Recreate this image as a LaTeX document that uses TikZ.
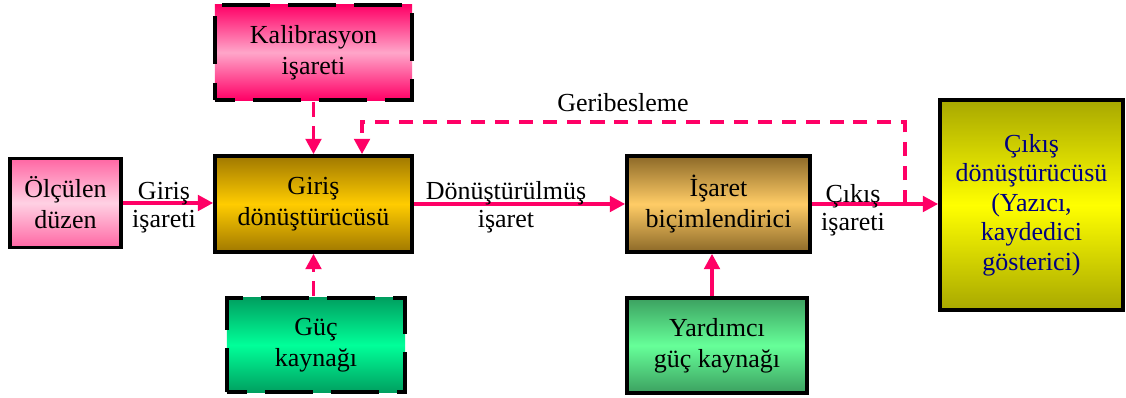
\documentclass[tikz,border=0pt]{standalone}
\usepackage{fontspec}
\setmainfont{Liberation Serif}
\usetikzlibrary{arrows.meta,positioning,calc}
\definecolor{pnk}{RGB}{255,0,102}
\definecolor{navy}{RGB}{0,0,128}
\tikzset{bx/.style={draw=black,line width=2.5pt,align=center,inner sep=2pt,font={\fontsize{18.5}{22}\selectfont}},
 dbx/.style={bx,line width=3.5pt,dash pattern=on 34pt off 13pt,dash phase=20pt},
 pk/.style={bx,top color=pnk!60,bottom color=pnk!60,middle color=pnk!18},
 kl/.style={dbx,top color=pnk,bottom color=pnk,middle color=pnk!35},
 au/.style={bx,top color={rgb,255:red,160;green,120;blue,0},bottom color={rgb,255:red,160;green,120;blue,0},middle color={rgb,255:red,255;green,204;blue,0}},
 gr/.style={dbx,top color={rgb,255:red,0;green,160;blue,96},bottom color={rgb,255:red,0;green,160;blue,96},middle color={rgb,255:red,0;green,255;blue,153}},
 br/.style={bx,top color={rgb,255:red,140;green,105;blue,40},bottom color={rgb,255:red,140;green,105;blue,40},middle color={rgb,255:red,255;green,204;blue,102}},
 lg/.style={bx,top color={rgb,255:red,60;green,160;blue,96},bottom color={rgb,255:red,60;green,160;blue,96},middle color={rgb,255:red,102;green,255;blue,153}},
 yl/.style={bx,text=navy,font={\fontsize{18.5}{21}\selectfont},top color={rgb,255:red,168;green,168;blue,0},bottom color={rgb,255:red,168;green,168;blue,0},middle color={rgb,255:red,255;green,255;blue,0}},
 flow/.style={-{Triangle[length=11pt,width=11pt]},draw=pnk,line width=2.8pt},
 dflow/.style={flow,dash pattern=on 10pt off 7pt},
 lbl/.style={align=center,font={\fontsize{18.5}{20}\selectfont}}}
\begin{document}
\begin{tikzpicture}[x=0.025cm,y=-0.025cm]
\useasboundingbox[fill=white](0,0) rectangle (1126,398);
\node[pk,minimum width=2.775cm,minimum height=2.225cm](olc) at (65.5,203){Ölçülen\\düzen};
\node[au,minimum width=4.925cm,minimum height=2.4cm](gir) at (313.5,204){Giriş\\dönüştürücüsü};
\node[kl,minimum width=4.925cm,minimum height=2.375cm](kal) at (313.5,52.5){Kalibrasyon\\işareti};
\node[gr,minimum width=4.45cm,minimum height=2.35cm](guc) at (316,345){Güç\\kaynağı};
\node[br,minimum width=4.575cm,minimum height=2.4cm](isa) at (718.5,204){İşaret\\biçimlendirici};
\node[lg,minimum width=4.5cm,minimum height=2.375cm](yar) at (717,345.5){Yardımcı\\güç kaynağı};
\node[yl,minimum width=4.575cm,minimum height=5.25cm](cik) at (1031.5,205){Çıkış\\dönüştürücüsü\\(Yazıcı,\\kaydedici\\gösterici)};
\draw[flow](olc.east)--(olc.east-|gir.west);
\draw[flow](gir.east)--(gir.east-|isa.west);
\draw[flow](isa.east)--(isa.east-|cik.west);
\draw[dflow](kal.south)--(gir.north);
\draw[dflow](guc.north-|gir.south)--(gir.south);
\draw[flow](yar.north-|712,0)--(isa.south-|712,0);
\coordinate(fb) at (905,204);\coordinate(fbl) at (362,122);
\draw[dflow](fb)|-(fbl)--(fbl|-gir.north);
\node[lbl](lgi) at (164,208){Giriş\\işareti};
\node[lbl](ldo) at (506,207){Dönüştürülmüş\\işaret};
\node[lbl](lci) at (853,210){Çıkış\\işareti};
\node[lbl](lge) at (623,103){Geribesleme};
\end{tikzpicture}
\end{document}
